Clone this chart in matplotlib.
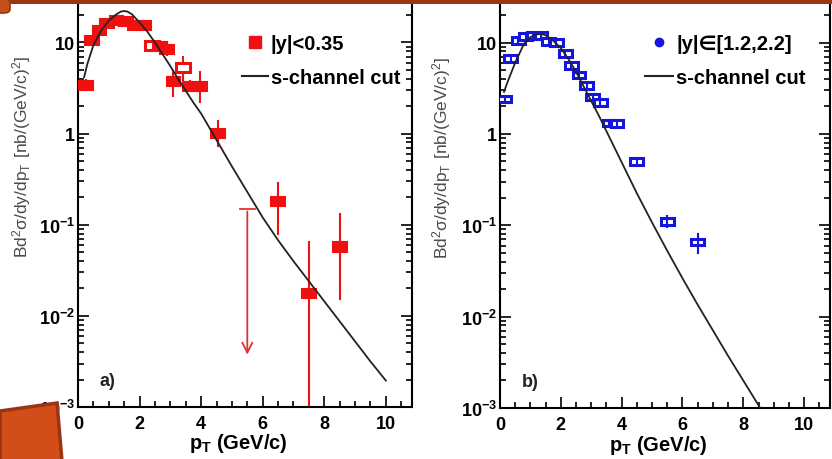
import numpy as np
import matplotlib.pyplot as plt
from matplotlib.patches import Rectangle, Polygon, FancyBboxPatch
from matplotlib.lines import Line2D
from matplotlib.ticker import MultipleLocator, LogLocator, FuncFormatter, NullFormatter

plt.rcParams['font.family'] = ['Liberation Sans', 'DejaVu Sans']

# %% Data, panel a) |y|<0.35
pt_a = [0.25, 0.45, 0.7, 0.95, 1.25, 1.55, 1.85, 2.15, 2.4, 2.65, 2.9,
        3.1, 3.4, 3.65, 3.95, 4.55, 6.5, 7.5, 8.5]
xs_a = [3.4, 10.5, 13.5, 16.0, 17.5, 17.0, 15.5, 15.5, 9.3, 9.0, 8.3,
        3.7, 5.3, 3.3, 3.3, 1.0, 0.18, 0.0175, 0.057]
lo_a = [3.0, 9.5, 12.5, 15.0, 16.0, 15.5, 14.0, 14.0, 8.3, 7.8, 7.2,
        2.6, 3.7, 2.9, 2.2, 0.74, 0.08, 0.0001, 0.0155]
hi_a = [3.9, 11.5, 14.5, 17.0, 19.0, 18.5, 17.0, 17.0, 10.4, 10.0, 9.6,
        4.9, 7.0, 3.8, 4.8, 1.38, 0.29, 0.065, 0.13]
open_a = [False, False, False, False, False, False, False, False, True, False, False,
          False, True, False, False, False, False, False, False]
# upper limit at 5.5 GeV/c
lim_pt = 5.5
lim_top = 0.15
lim_tip = 0.0035

# %% Data, panel b) |y| in [1.2,2.2]
pt_b = [0.15, 0.35, 0.6, 0.85, 1.1, 1.35, 1.6, 1.85, 2.15, 2.35, 2.6, 2.85,
        3.05, 3.3, 3.6, 3.85, 4.5, 5.5, 6.5]
xs_b = [2.4, 6.7, 10.5, 11.7, 12.0, 12.0, 10.3, 10.0, 7.6, 5.6, 4.4, 3.4,
        2.55, 2.2, 1.32, 1.3, 0.5, 0.11, 0.066]
lo_b = [2.2, 6.2, 9.8, 11.0, 11.3, 11.3, 9.7, 9.4, 7.1, 5.2, 4.1, 3.15,
        2.35, 2.0, 1.22, 1.2, 0.46, 0.095, 0.050]
hi_b = [2.6, 7.2, 11.2, 12.4, 12.7, 12.7, 10.9, 10.6, 8.1, 6.0, 4.7, 3.65,
        2.75, 2.4, 1.42, 1.4, 0.54, 0.125, 0.081]

# %% s-channel cut curves (read as log10 values)
curve_pt_a = [0.2, 0.3, 0.5, 0.75, 1.0, 1.25, 1.4, 1.5, 1.6, 1.75, 2.0, 2.25,
              2.5, 2.75, 3.0, 3.25, 3.5, 3.75, 4.0, 4.5, 5.0, 5.5, 6.0, 6.5,
              7.0, 7.5, 8.0, 8.5, 9.0, 9.5, 10.0]
curve_log_a = [0.62, 0.76, 0.97, 1.13, 1.24, 1.31, 1.34, 1.345, 1.34, 1.31, 1.22, 1.12,
               1.00, 0.87, 0.74, 0.60, 0.47, 0.34, 0.22, -0.07, -0.36, -0.64, -0.92, -1.17,
               -1.40, -1.62, -1.84, -2.06, -2.28, -2.50, -2.71]
curve_pt_b = [0.13, 0.25, 0.5, 0.75, 1.0, 1.2, 1.35, 1.5, 1.75, 2.0, 2.25, 2.5,
              2.75, 3.0, 3.25, 3.5, 4.0, 4.5, 5.0, 5.5, 6.0, 6.5, 7.0, 7.5,
              8.0, 8.5, 9.0]
curve_log_b = [0.46, 0.57, 0.78, 0.96, 1.06, 1.09, 1.095, 1.08, 1.02, 0.94, 0.82, 0.68,
               0.52, 0.36, 0.20, 0.03, -0.31, -0.65, -0.97, -1.28, -1.58, -1.87, -2.15, -2.43,
               -2.70, -2.97, -3.24]

fig = plt.figure(figsize=(8.32, 4.6), dpi=100)
ax_a = fig.add_axes([78 / 832, 1 - 408 / 460, 334 / 832, 408 / 460])
ax_b = fig.add_axes([500 / 832, 1 - 409 / 460, 330 / 832, 409 / 460])


def ytick_fmt(v, pos):
    if v >= 9:
        return '10'
    if 0.9 < v < 1.1:
        return '1'
    return r'$\mathregular{10^{%d}}$' % int(round(np.log10(v)))


for ax, lab, ylx in [(ax_a, 'a)', -0.135), (ax_b, 'b)', -0.142)]:
    ax.set_yscale('log')
    ax.set_xlim(0, 10.85)
    ax.set_ylim(1e-3, 30)
    ax.xaxis.set_major_locator(MultipleLocator(2))
    ax.xaxis.set_minor_locator(MultipleLocator(0.5))
    ax.yaxis.set_major_locator(LogLocator(base=10, numticks=10))
    ax.yaxis.set_minor_locator(LogLocator(base=10, subs=np.arange(2, 10), numticks=10))
    ax.yaxis.set_major_formatter(FuncFormatter(ytick_fmt))
    ax.yaxis.set_minor_formatter(NullFormatter())
    ax.tick_params(which='both', direction='in', right=True, top=False, width=1.2,
                   labelsize=13, colors='black')
    ax.tick_params(which='major', length=8)
    ax.tick_params(which='minor', length=4.5)
    ax.tick_params(axis='x', pad=6)
    ax.tick_params(axis='y', pad=2)
    for t in ax.get_xticklabels() + ax.get_yticklabels():
        t.set_fontweight('bold')
    for s in ax.spines.values():
        s.set_linewidth(1.5)
    ax.set_xlabel(r'$\mathregular{p_T}$ (GeV/c)', fontsize=14.5, fontweight='bold')
    ax.xaxis.set_label_coords(0.48, -0.06)
    ax.set_ylabel(r'$\mathregular{Bd^2\sigma/dy/dp_T\ [nb/(GeV/c)^2]}$', fontsize=12.5,
                  color='#4a4a4a')
    ax.yaxis.set_label_coords(ylx, 0.615)
    ax.text(0.065, 0.065, lab, transform=ax.transAxes, fontsize=13, ha='left',
            va='center', fontweight='bold', color='#222222')

# panel a points
ha = 10 ** 0.05
for x, y, lo, hi, op in zip(pt_a, xs_a, lo_a, hi_a, open_a):
    ax_a.plot([x, x], [lo, hi], color='#f01010', lw=1.5, zorder=2)
    ax_a.add_patch(Rectangle((x - 0.225, y / ha), 0.45, y * ha - y / ha,
                             facecolor='white' if op else '#f01010',
                             edgecolor='#f01010', lw=2.2 if op else 1.5, zorder=3))
ax_a.plot([lim_pt - 0.25, lim_pt + 0.25], [lim_top, lim_top], color='#e03030', lw=1.3)
ax_a.annotate('', xy=(lim_pt, lim_tip), xytext=(lim_pt, lim_top),
              arrowprops=dict(arrowstyle='->', color='#e03030', lw=1.3,
                              mutation_scale=18))
ax_a.plot(curve_pt_a, 10 ** np.array(curve_log_a), color='#222222', lw=1.3, zorder=4)

ax_a.legend(handles=[Line2D([], [], marker='s', color='#f01010', ls='none', markersize=9),
                     Line2D([], [], color='#222222', lw=1.5)],
            labels=['|y|<0.35', 's-channel cut'], loc='upper left',
            bbox_to_anchor=(0.49, 0.915), frameon=False,
            handlelength=1.3, handletextpad=0.15, labelspacing=0.75,
            borderpad=0, borderaxespad=0, prop={'weight': 'bold', 'size': 14.5})

# panel b points
hb = 10 ** 0.035
for x, y, lo, hi in zip(pt_b, xs_b, lo_b, hi_b):
    ax_b.add_patch(Rectangle((x - 0.21, y / hb), 0.42, y * hb - y / hb,
                             facecolor='white', edgecolor='#1515e0', lw=2.2, zorder=3))
    ax_b.plot([x, x], [lo, hi], color='#1515e0', lw=1.5, zorder=3.5)
ax_b.plot(curve_pt_b, 10 ** np.array(curve_log_b), color='#222222', lw=1.3, zorder=4)

ax_b.legend(handles=[Line2D([], [], marker='o', color='#1515e0', ls='none', markersize=6),
                     Line2D([], [], color='#222222', lw=1.5)],
            labels=['|y|\u2208[1.2,2.2]', 's-channel cut'], loc='upper left',
            bbox_to_anchor=(0.44, 0.915), frameon=False,
            handlelength=1.4, handletextpad=0.15, labelspacing=0.75,
            borderpad=0, borderaxespad=0, prop={'weight': 'bold', 'size': 14.5})


# slide decorations
def px(x, y):
    return (x / 832, 1 - y / 460)


fig.add_artist(Rectangle(px(0, 5), 1, 5 / 460, transform=fig.transFigure,
                         facecolor='#9a3412', edgecolor='none', zorder=10))
fig.add_artist(FancyBboxPatch(px(-10, 14), 20 / 832, 14 / 460, transform=fig.transFigure,
                              boxstyle='round,pad=0,rounding_size=0.008',
                              facecolor='#c4501c', edgecolor='#9a3412', lw=1.2, zorder=11))
fig.add_artist(Polygon([px(0, 412), px(57, 404), px(62, 462), px(0, 462)],
                       transform=fig.transFigure, facecolor='#d24d18',
                       edgecolor='#9a3412', lw=2.5, zorder=10))

fig.savefig('out.png', dpi=100)
